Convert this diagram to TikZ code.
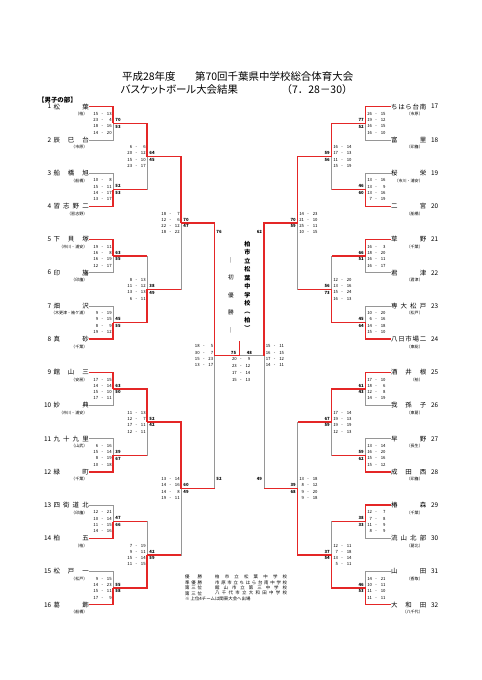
\documentclass[tikz,border=0pt]{standalone}
\usepackage{fontspec}
\setmainfont{Noto Sans CJK JP}
\newfontfamily\propjp[RawFeature=+palt]{Noto Sans CJK JP}
\usetikzlibrary{positioning}
\definecolor{winred}{RGB}{228,38,38}
\definecolor{linegray}{RGB}{150,150,150}
% one quarter "a - b", and the four quarters of a game
\newcommand\qscore[2]{\makebox[2.3mm][r]{#1}\makebox[3.6mm]{-}\makebox[2.3mm][r]{#2}}
\newcommand\qsc[8]{\qscore{#1}{#2}\\\qscore{#3}{#4}\\\qscore{#5}{#6}\\\qscore{#7}{#8}}
% spread the letters of a name over a fixed width
\newcommand\jspread[1]{#1\jspreadnext}
\def\jspreadnext#1{\ifx\relax#1\else\hfill#1\expandafter\jspreadnext\fi}
\newcommand\spreadbox[2]{\makebox[#1][s]{\expandafter\jspread#2\relax}}

\begin{document}
\begin{tikzpicture}[
    x=0.4366mm, y=-0.4366mm,
    font=\fontsize{8}{9}\selectfont,
    % --- text styles ---
    ttl/.style   ={inner sep=0, anchor=west, font=\fontsize{13}{14}\selectfont},
    group/.style ={inner sep=0, anchor=west, font=\bfseries\fontsize{8}{9}\selectfont},
    tname/.style ={inner sep=0, anchor=west, font=\fontsize{8}{9}\selectfont},
    tnum/.style  ={inner sep=0, font=\fontsize{8}{9}\selectfont},
    area/.style  ={inner sep=0, anchor=east, font=\fontsize{5}{6}\selectfont},
    qtr/.style   ={inner sep=0, align=center, font=\fontsize{5.3}{7.8}\selectfont},
    tot/.style   ={inner sep=0, align=center, font=\bfseries\fontsize{5.3}{8.2}\selectfont},
    vtext/.style ={inner sep=0, align=center},
    legend/.style={inner sep=0, anchor=west, font=\fontsize{5.5}{6}\selectfont},
    % --- line styles ---
    lose/.style  ={draw=linegray, line width=0.9pt},
    win/.style   ={draw=winred, line width=1.8pt},
]
\path[fill=white] (0,0) rectangle (481,680);

% =============== heading ===============
\node[ttl] (title1) at (122,76.7) {平成28年度};
\node[ttl] (title2) at (195,76.7) {第70回千葉県中学校総合体育大会};
\node[ttl, font=\propjp\fontsize{13}{14}\selectfont] (title3) at (120.5,89.3) {バスケットボール大会結果};
\node[ttl] (title4) at (281.5,89.3) {（7．28－30）};
\node[group] (boys) at (38,100.5) {【男子の部】};

% =============== teams ===============
\foreach \i/\nm/\ar in {1/松葉/柏, 2/辰巳台/市原, 3/船橋旭/船橋, 4/習志野二/習志野,
    5/下貝塚/市川・浦安, 6/印旛/印旛, 7/畑沢/木更津・袖ケ浦, 8/真砂/千葉,
    9/館山三/安房, 10/妙典/市川・浦安, 11/九十九里/山武, 12/緑町/千葉,
    13/四街道北/印旛, 14/柏五/柏, 15/松戸一/松戸, 16/葛飾/船橋}{
  \node[tname] (t\i) at (53.5,{106.7+33.2*(\i-1)}) {\spreadbox{15.3mm}{\nm}};
  \node[tnum, left=0.9mm of t\i] (n\i) {\i};
  \node[area] (r\i) at ([shift={(-0.6mm,-3.3mm)}]t\i.east) {（\ar）};
}
\foreach \i/\nm/\ar in {17/ちはら台南/市原, 18/富里/印旛, 19/桜栄/市川・浦安, 20/二宮/船橋,
    21/草野/千葉, 22/君津/君津, 23/専大松戸/松戸, 24/八日市場二/東総,
    25/酒井根/柏, 26/我孫子/東葛, 27/早野/長生, 28/成田西/印旛,
    29/椿森/千葉, 30/流山北部/葛北, 31/山田/香取, 32/大和田/八千代}{
  \node[tname] (t\i) at (391,{106.7+33.2*(\i-17)}) {\spreadbox{15.3mm}{\nm}};
  \node[tnum, right=2mm of t\i] (n\i) {\i};
  \node[area] (r\i) at ([shift={(-1.5mm,-3.3mm)}]t\i.east) {（\ar）};
}

% =============== junctions ===============
\coordinate (a1) at (113,123.3);   \coordinate (a9)  at (365.5,123.3);
\coordinate (a2) at (113,189.7);   \coordinate (a10) at (365.5,189.7);
\coordinate (a3) at (113,256.1);   \coordinate (a11) at (365.5,256.1);
\coordinate (a4) at (113,322.5);   \coordinate (a12) at (365.5,322.5);
\coordinate (a5) at (113,388.9);   \coordinate (a13) at (365.5,388.9);
\coordinate (a6) at (113,455.3);   \coordinate (a14) at (365.5,455.3);
\coordinate (a7) at (113,521.7);   \coordinate (a15) at (365.5,521.7);
\coordinate (a8) at (113,588.1);   \coordinate (a16) at (365.5,588.1);
\coordinate (b1) at (147,156.5);   \coordinate (b5)  at (331.5,156.5);
\coordinate (b2) at (147,289.3);   \coordinate (b6)  at (331.5,289.3);
\coordinate (b3) at (147,422.1);   \coordinate (b7)  at (331.5,422.1);
\coordinate (b4) at (147,554.9);   \coordinate (b8)  at (331.5,554.9);
\coordinate (c1) at (181,222.9);   \coordinate (c3)  at (297.5,222.9);
\coordinate (c2) at (181,488.5);   \coordinate (c4)  at (297.5,488.5);
\coordinate (d1) at (214.5,355.7); \coordinate (d2)  at (264,355.7);
\coordinate (d1top) at (214.5,222.9); \coordinate (d1bot) at (214.5,488.5);
\coordinate (d2top) at (264,222.9);   \coordinate (d2bot) at (264,488.5);
\coordinate (fin) at (239.3,355.7);
\coordinate (crown) at (239.3,340.7);

% =============== bracket, grey ===============
\foreach \i [evaluate=\i as \j using {int((\i+1)/2)}] in {1,...,16}
  \draw[lose] (t\i.east) -| (a\j);
\foreach \i [evaluate=\i as \j using {int((\i+1)/2)}] in {17,...,32}
  \draw[lose] (t\i.west) -| (a\j);
\foreach \i [evaluate=\i as \j using {int((\i+1)/2)}] in {1,...,16}
  \draw[lose] (a\i) -| (b\j);
\foreach \i [evaluate=\i as \j using {int((\i+1)/2)}] in {1,...,8}
  \draw[lose] (b\i) -| (c\j);
\foreach \i [evaluate=\i as \j using {int((\i+1)/2)}] in {1,...,4}
  \draw[lose] (c\i) -| (d\j);
\draw[lose] (fin) -- (d2);

% =============== bracket, winners ===============
\foreach \p/\q in {t1.east/a1, t4.east/a2, t5.east/a3, t8.east/a4, t9.east/a5,
    t12.east/a6, t14.east/a7, t16.east/a8, t17.west/a9, t20.west/a10,
    t21.west/a11, t24.west/a12, t25.west/a13, t28.west/a14, t29.west/a15,
    t32.west/a16, a1/b1, a4/b2, a5/b3, a8/b4, a9/b5, a12/b6, a13/b7, a16/b8,
    b1/c1, b3/c2, b5/c3, b8/c4, c1/d1, c3/d2}
  \draw[win] (\p) -| (\q);
\foreach \p/\q in {a2/b1, a3/b2, a6/b3, a7/b4, a10/b5, a11/b6, a14/b7, a15/b8,
    b2/c1, b4/c2, b6/c3, b7/c4, c2/d1, c4/d2}
  \draw[win] (\p) -- (\p -| \q);
\draw[win] (d1) -- (fin) -- (crown);

% =============== scores, left half ===============
\node[qtr, left=0.5mm of a1]  (qa1) {\qsc{15}{13}{23}{4}{18}{16}{14}{20}};
\node[tot, right=1mm of a1]   (sa1) {70\\53};
\node[qtr, left=0.5mm of a2]  (qa2) {\qsc{10}{8}{15}{11}{14}{17}{13}{17}};
\node[tot, right=1mm of a2]   (sa2) {52\\53};
\node[qtr, left=0.5mm of a3]  (qa3) {\qsc{19}{11}{16}{8}{16}{19}{12}{17}};
\node[tot, right=1mm of a3]   (sa3) {63\\55};
\node[qtr, left=0.5mm of a4]  (qa4) {\qsc{9}{19}{9}{15}{8}{9}{19}{12}};
\node[tot, right=1mm of a4]   (sa4) {45\\55};
\node[qtr, left=0.5mm of a5]  (qa5) {\qsc{17}{15}{14}{14}{15}{10}{17}{11}};
\node[tot, right=1mm of a5]   (sa5) {63\\50};
\node[qtr, left=0.5mm of a6]  (qa6) {\qsc{6}{16}{15}{14}{8}{19}{10}{18}};
\node[tot, right=1mm of a6]   (sa6) {39\\67};
\node[qtr, left=0.5mm of a7]  (qa7) {\qsc{12}{21}{10}{14}{11}{15}{14}{16}};
\node[tot, right=1mm of a7]   (sa7) {47\\66};
\node[qtr, left=0.5mm of a8]  (qa8) {\qsc{9}{15}{14}{23}{15}{11}{17}{9}};
\node[tot, right=1mm of a8]   (sa8) {55\\58};
\node[qtr, left=0.5mm of b1]  (qb1) {\qsc{6}{6}{20}{12}{15}{10}{23}{17}};
\node[tot, right=1mm of b1]   (sb1) {64\\45};
\node[qtr, left=0.5mm of b2]  (qb2) {\qsc{8}{13}{11}{12}{13}{13}{6}{11}};
\node[tot, right=1mm of b2]   (sb2) {38\\49};
\node[qtr, left=0.5mm of b3]  (qb3) {\qsc{11}{13}{12}{7}{17}{11}{12}{11}};
\node[tot, right=1mm of b3]   (sb3) {52\\42};
\node[qtr, left=0.5mm of b4]  (qb4) {\qsc{7}{19}{9}{11}{15}{14}{11}{15}};
\node[tot, right=1mm of b4]   (sb4) {42\\59};
\node[qtr, left=0.5mm of c1]  (qc1) {\qsc{18}{7}{12}{6}{22}{12}{18}{22}};
\node[tot, right=1mm of c1]   (sc1) {70\\47};
\node[qtr, left=0.5mm of c2]  (qc2) {\qsc{13}{14}{14}{16}{14}{8}{19}{11}};
\node[tot, right=1mm of c2]   (sc2) {60\\49};
\node[qtr, left=0.5mm of d1]  (qd1) {\qsc{18}{5}{30}{7}{15}{23}{13}{17}};
\node[tot, anchor=west] (sd1a) at ([shift={(0.8mm,-4mm)}]d1top) {76};
\node[tot, anchor=west] (sd1b) at ([shift={(0.8mm,4mm)}]d1bot) {52};

% =============== scores, right half ===============
\node[qtr, right=0.5mm of a9]  (qa9)  {\qsc{26}{15}{19}{12}{16}{15}{16}{10}};
\node[tot, left=0.7mm of a9]   (sa9)  {77\\52};
\node[qtr, right=0.5mm of a10] (qa10) {\qsc{13}{16}{13}{9}{13}{16}{7}{19}};
\node[tot, left=0.7mm of a10]  (sa10) {46\\60};
\node[qtr, right=0.5mm of a11] (qa11) {\qsc{16}{3}{18}{20}{16}{11}{16}{17}};
\node[tot, left=0.7mm of a11]  (sa11) {66\\51};
\node[qtr, right=0.5mm of a12] (qa12) {\qsc{10}{20}{6}{16}{14}{18}{15}{10}};
\node[tot, left=0.7mm of a12]  (sa12) {45\\64};
\node[qtr, right=0.5mm of a13] (qa13) {\qsc{17}{10}{18}{6}{12}{8}{14}{19}};
\node[tot, left=0.7mm of a13]  (sa13) {61\\43};
\node[qtr, right=0.5mm of a14] (qa14) {\qsc{13}{14}{16}{20}{15}{16}{15}{12}};
\node[tot, left=0.7mm of a14]  (sa14) {59\\62};
\node[qtr, right=0.5mm of a15] (qa15) {\qsc{12}{7}{7}{8}{11}{9}{8}{9}};
\node[tot, left=0.7mm of a15]  (sa15) {38\\33};
\node[qtr, right=0.5mm of a16] (qa16) {\qsc{14}{21}{10}{11}{11}{10}{11}{11}};
\node[tot, left=0.7mm of a16]  (sa16) {46\\53};
\node[qtr, right=0.5mm of b5]  (qb5)  {\qsc{16}{14}{17}{13}{11}{10}{15}{19}};
\node[tot, left=0.7mm of b5]   (sb5)  {59\\56};
\node[qtr, right=0.5mm of b6]  (qb6)  {\qsc{12}{20}{13}{16}{15}{24}{16}{13}};
\node[tot, left=0.7mm of b6]   (sb6)  {56\\73};
\node[qtr, right=0.5mm of b7]  (qb7)  {\qsc{17}{14}{19}{13}{19}{19}{12}{13}};
\node[tot, left=0.7mm of b7]   (sb7)  {67\\59};
\node[qtr, right=0.5mm of b8]  (qb8)  {\qsc{12}{11}{7}{18}{13}{14}{5}{11}};
\node[tot, left=0.7mm of b8]   (sb8)  {37\\54};
\node[qtr, right=0.5mm of c3]  (qc3)  {\qsc{14}{23}{21}{10}{25}{11}{10}{15}};
\node[tot, left=0.7mm of c3]   (sc3)  {70\\59};
\node[qtr, right=0.5mm of c4]  (qc4)  {\qsc{13}{18}{8}{12}{9}{20}{9}{18}};
\node[tot, left=0.7mm of c4]   (sc4)  {39\\68};
\node[qtr, right=0.5mm of d2]  (qd2)  {\qsc{15}{11}{16}{15}{17}{12}{14}{11}};
\node[tot, anchor=east] (sd2a) at ([shift={(-0.8mm,-4mm)}]d2top) {62};
\node[tot, anchor=east] (sd2b) at ([shift={(-0.8mm,4mm)}]d2bot) {49};

% =============== final ===============
\node[tot, anchor=south east] (sfa) at ([shift={(-1.3mm,0.5mm)}]fin) {75};
\node[tot, anchor=south west] (sfb) at ([shift={(3.2mm,0.5mm)}]fin) {48};
\node[qtr, anchor=north, font=\fontsize{5.3}{8.7}\selectfont] (qf)
     at ([shift={(0.7mm,-0.7mm)}]fin) {\qsc{20}{9}{23}{12}{17}{14}{15}{13}};
\node[vtext, font=\fontsize{7}{21.7}\selectfont] (motto) at (231,295)
     {｜\\初\\優\\勝\\｜};
\node[vtext, font=\bfseries\fontsize{7.5}{10.5}\selectfont] (champ) at (247.3,286)
     {柏\\市\\立\\松\\葉\\中\\学\\校\\︵\\柏\\︶};

% =============== result list ===============
\node[legend] (lg1) at (185,577.3) {\spreadbox{7.4mm}{優勝}};
\node[legend] (ls1) at (215,577.3) {\spreadbox{31.4mm}{柏市立松葉中学校}};
\node[legend] (lg2) at (185,582.7) {\spreadbox{7.4mm}{準優勝}};
\node[legend] (ls2) at (215,582.7) {\spreadbox{31.4mm}{市原市立ちはら台南中学校}};
\node[legend] (lg3) at (185,588) {\spreadbox{7.4mm}{第三位}};
\node[legend] (ls3) at (215,588) {\spreadbox{31.4mm}{館山市立第三中学校}};
\node[legend] (lg4) at (185,593.3) {\spreadbox{7.4mm}{第三位}};
\node[legend] (ls4) at (215,593.3) {\spreadbox{31.4mm}{八千代市立大和田中学校}};
\node[legend] (lnote) at (185,598.7) {※ 上位4チームは関東大会へ出場};

\end{tikzpicture}
\end{document}
